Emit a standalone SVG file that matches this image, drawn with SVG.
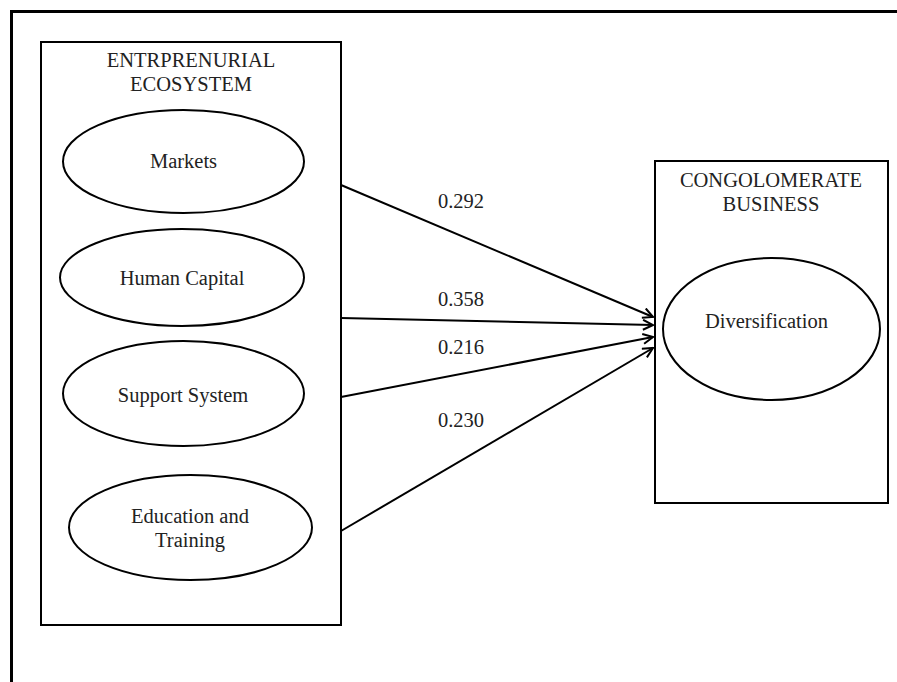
<svg xmlns="http://www.w3.org/2000/svg" width="897" height="682" viewBox="0 0 897 682">
<defs>
<marker id="arr" viewBox="0 0 12 12" refX="11" refY="6" markerWidth="12" markerHeight="12" markerUnits="userSpaceOnUse" orient="auto">
<path d="M1,1 L11,6 L1,11" fill="none" stroke="#000" stroke-width="2"/>
</marker>
<style>
.box{fill:#fff;stroke:#000;stroke-width:2}
.ell{fill:#fff;stroke:#000;stroke-width:2}
.t{font-family:"Liberation Serif","Times New Roman",serif;font-size:20.5px;fill:#222;text-anchor:middle}
.c{fill:none;stroke:#000;stroke-width:2;marker-end:url(#arr)}
</style>
</defs>
<rect x="0" y="0" width="897" height="682" fill="#fff"/>
<rect id="frame" x="11.5" y="11.5" width="900" height="700" fill="none" stroke="#000" stroke-width="3"/>
<g id="ecosystem">
<rect class="box" x="41" y="42" width="300" height="583"/>
<text class="t" x="191" y="67">ENTRPRENURIAL</text>
<text class="t" x="191" y="91">ECOSYSTEM</text>
</g>
<g id="markets">
<ellipse class="ell" cx="183.5" cy="161.5" rx="120.5" ry="51.5"/>
<text class="t" x="183.5" y="168">Markets</text>
</g>
<g id="human-capital">
<ellipse class="ell" cx="182" cy="277.5" rx="122" ry="48.5"/>
<text class="t" x="182" y="285">Human Capital</text>
</g>
<g id="support-system">
<ellipse class="ell" cx="183.5" cy="393.5" rx="120.5" ry="52.5"/>
<text class="t" x="183" y="401.5">Support System</text>
</g>
<g id="education">
<ellipse class="ell" cx="190.5" cy="527.5" rx="121.5" ry="52.5"/>
<text class="t" x="190" y="523">Education and</text>
<text class="t" x="190" y="547">Training</text>
</g>
<g id="conglomerate">
<rect class="box" x="655" y="161" width="233" height="342"/>
<text class="t" x="771" y="187">CONGOLOMERATE</text>
<text class="t" x="771" y="211">BUSINESS</text>
</g>
<g id="diversification">
<ellipse class="ell" cx="771.5" cy="329" rx="108.5" ry="71"/>
<text class="t" x="766.5" y="328">Diversification</text>
</g>
<g id="connectors">
<line class="c" x1="341" y1="185" x2="653" y2="317"/>
<line class="c" x1="341" y1="318" x2="653" y2="325"/>
<line class="c" x1="341" y1="397" x2="653" y2="337"/>
<line class="c" x1="341" y1="531" x2="653" y2="348"/>
<text class="t" x="461" y="208">0.292</text>
<text class="t" x="461" y="306">0.358</text>
<text class="t" x="461" y="354">0.216</text>
<text class="t" x="461" y="427">0.230</text>
</g>
</svg>
